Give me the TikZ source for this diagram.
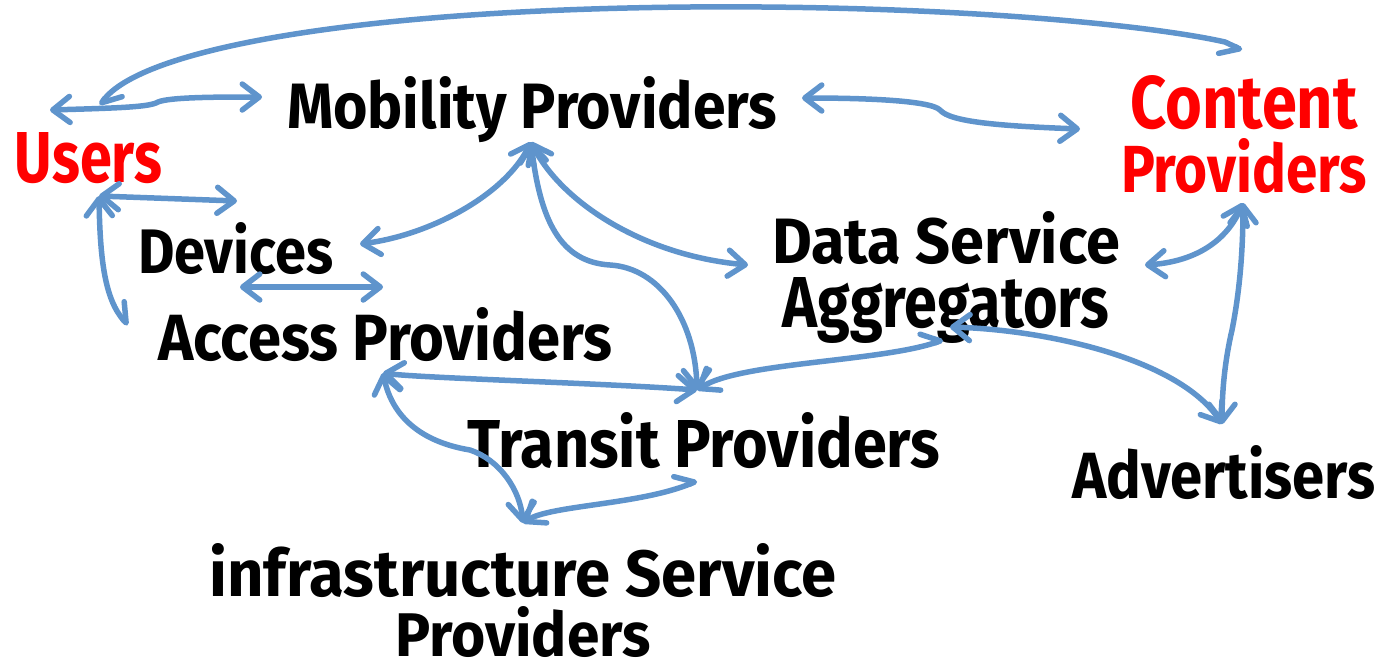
\documentclass[tikz,border=0pt]{standalone}
\usepackage{fontspec}
\setmainfont{Fira Sans}
\usetikzlibrary{arrows.meta}
\definecolor{arrowblue}{RGB}{95,148,204}
\definecolor{userred}{RGB}{255,0,0}
\newcommand\fitbox[3]{\resizebox{#1pt}{#2pt}{#3}}
\tikzset{
  conn/.style={draw=arrowblue, line width=5.5pt, line cap=round, line join=round},
  bt/.tip={Straight Barb[length=17pt,width=26pt,round]},
  ht/.tip={Straight Barb[length=17pt,width=26pt,round,harpoon]},
  hs/.tip={Straight Barb[length=17pt,width=26pt,round,harpoon,swap]},
  lbl/.style={inner sep=0pt, outer sep=0pt, font=\bfseries, text=black},
  lbl2/.style={lbl, align=center, anchor=north},
}
\begin{document}
\begin{tikzpicture}[x=1pt,y=-1pt]
\useasboundingbox (0,0) rectangle (1380,667);
% labels
\node[lbl, anchor=base west, text=userred] (users) at (15,182) {\fitbox{147}{50}{Users}};
\node[lbl, anchor=base west] (mp) at (287,128) {\fitbox{490}{52}{Mobility Providers}};
\node[lbl2, text=userred, font=\bfseries\fontsize{40}{64}\selectfont] (cp) at (1244,75) {\fitbox{227}{53}{Content}\\\fitbox{246}{54}{Providers}};
\node[lbl, anchor=base west] (dev) at (138,273) {\fitbox{195}{51}{Devices}};
\node[lbl, anchor=base west] (ap) at (158,360) {\fitbox{454}{53}{Access Providers}};
\node[lbl2, font=\bfseries\fontsize{40}{64}\selectfont] (dsa) at (946,211) {\fitbox{348}{52}{Data Service}\\\fitbox{327}{50}{Aggregators}};
\node[lbl, anchor=base west] (tp) at (467,467) {\fitbox{473}{55}{Transit Providers}};
\node[lbl, anchor=base west] (adv) at (1072,498) {\fitbox{303}{53}{Advertisers}};
\node[lbl2, font=\bfseries\fontsize{40}{60}\selectfont] (isp) at (523,543) {\fitbox{627}{53}{infrastructure Service}\\\fitbox{255}{50}{Providers}};
% connector end points
\coordinate (uArc) at (100,105);
\coordinate (cpArc) at (1242,50);
\coordinate (uL) at (50,110);
\coordinate (mpL) at (262,97);
\coordinate (mpR) at (802,98);
\coordinate (cpL) at (1080,129);
\coordinate (uB) at (99,196);
\coordinate (devT) at (237,201);
\coordinate (apL) at (128,325);
\coordinate (devB) at (240,287);
\coordinate (apT) at (383,287);
\coordinate (mpB) at (531,142);
\coordinate (devR) at (360,244);
\coordinate (dsaL) at (748,265);
\coordinate (tpT) at (697,390);
\coordinate (apB) at (383,373);
\coordinate (dsaB) at (943,340);
\coordinate (ispT) at (523,523);
\coordinate (tpB) at (697,481);
\coordinate (cpB) at (1243,203);
\coordinate (dsaR) at (1145,265);
\coordinate (advT) at (1222,424);
\coordinate (dsaBR) at (950,327);
% connectors
\draw[conn, ht-hs] (uArc) .. controls (140,50) and (350,10) .. (690,7) .. controls (950,5) and (1150,25) .. (1225,42) -- (cpArc);
\draw[conn, bt-bt] (uL) .. controls (120,108) and (150,107) .. (158,102) .. controls (170,97) and (220,97) .. (mpL);
\draw[conn, bt-bt] (mpR) .. controls (860,98) and (930,100) .. (940,110) .. controls (950,122) and (1000,126) .. (cpL);
\draw[conn, bt-bt] (uB) -- (devT);
\draw[conn, bt-ht] (uB) .. controls (100,260) and (105,300) .. (apL);
\draw[conn, bt-bt] (devB) -- (apT);
\draw[conn, bt-bt] (mpB) .. controls (505,195) and (430,235) .. (devR);
\draw[conn, bt-bt] (mpB) .. controls (560,200) and (640,255) .. (dsaL);
\draw[conn, bt-bt] (mpB) .. controls (540,220) and (560,262) .. (610,265) .. controls (660,268) and (695,320) .. (tpT);
\draw[conn, bt-bt] (apB) .. controls (420,378) and (600,383) .. (tpT);
\draw[conn, bt-ht] (tpT) .. controls (740,362) and (880,362) .. (dsaB);
\draw[conn, bt-bt] (apB) .. controls (395,430) and (440,445) .. (470,450) .. controls (500,460) and (520,490) .. (ispT);
\draw[conn, bt-ht] (ispT) .. controls (550,505) and (640,505) .. (tpB);
\draw[conn, bt-bt] (cpB) .. controls (1225,245) and (1190,262) .. (dsaR);
\draw[conn, bt-bt] (cpB) .. controls (1243,260) and (1238,300) .. (1232,330) .. controls (1225,360) and (1222,390) .. (advT);
\draw[conn, bt-bt] (dsaBR) .. controls (1050,330) and (1180,360) .. (advT);
\end{tikzpicture}
\end{document}
